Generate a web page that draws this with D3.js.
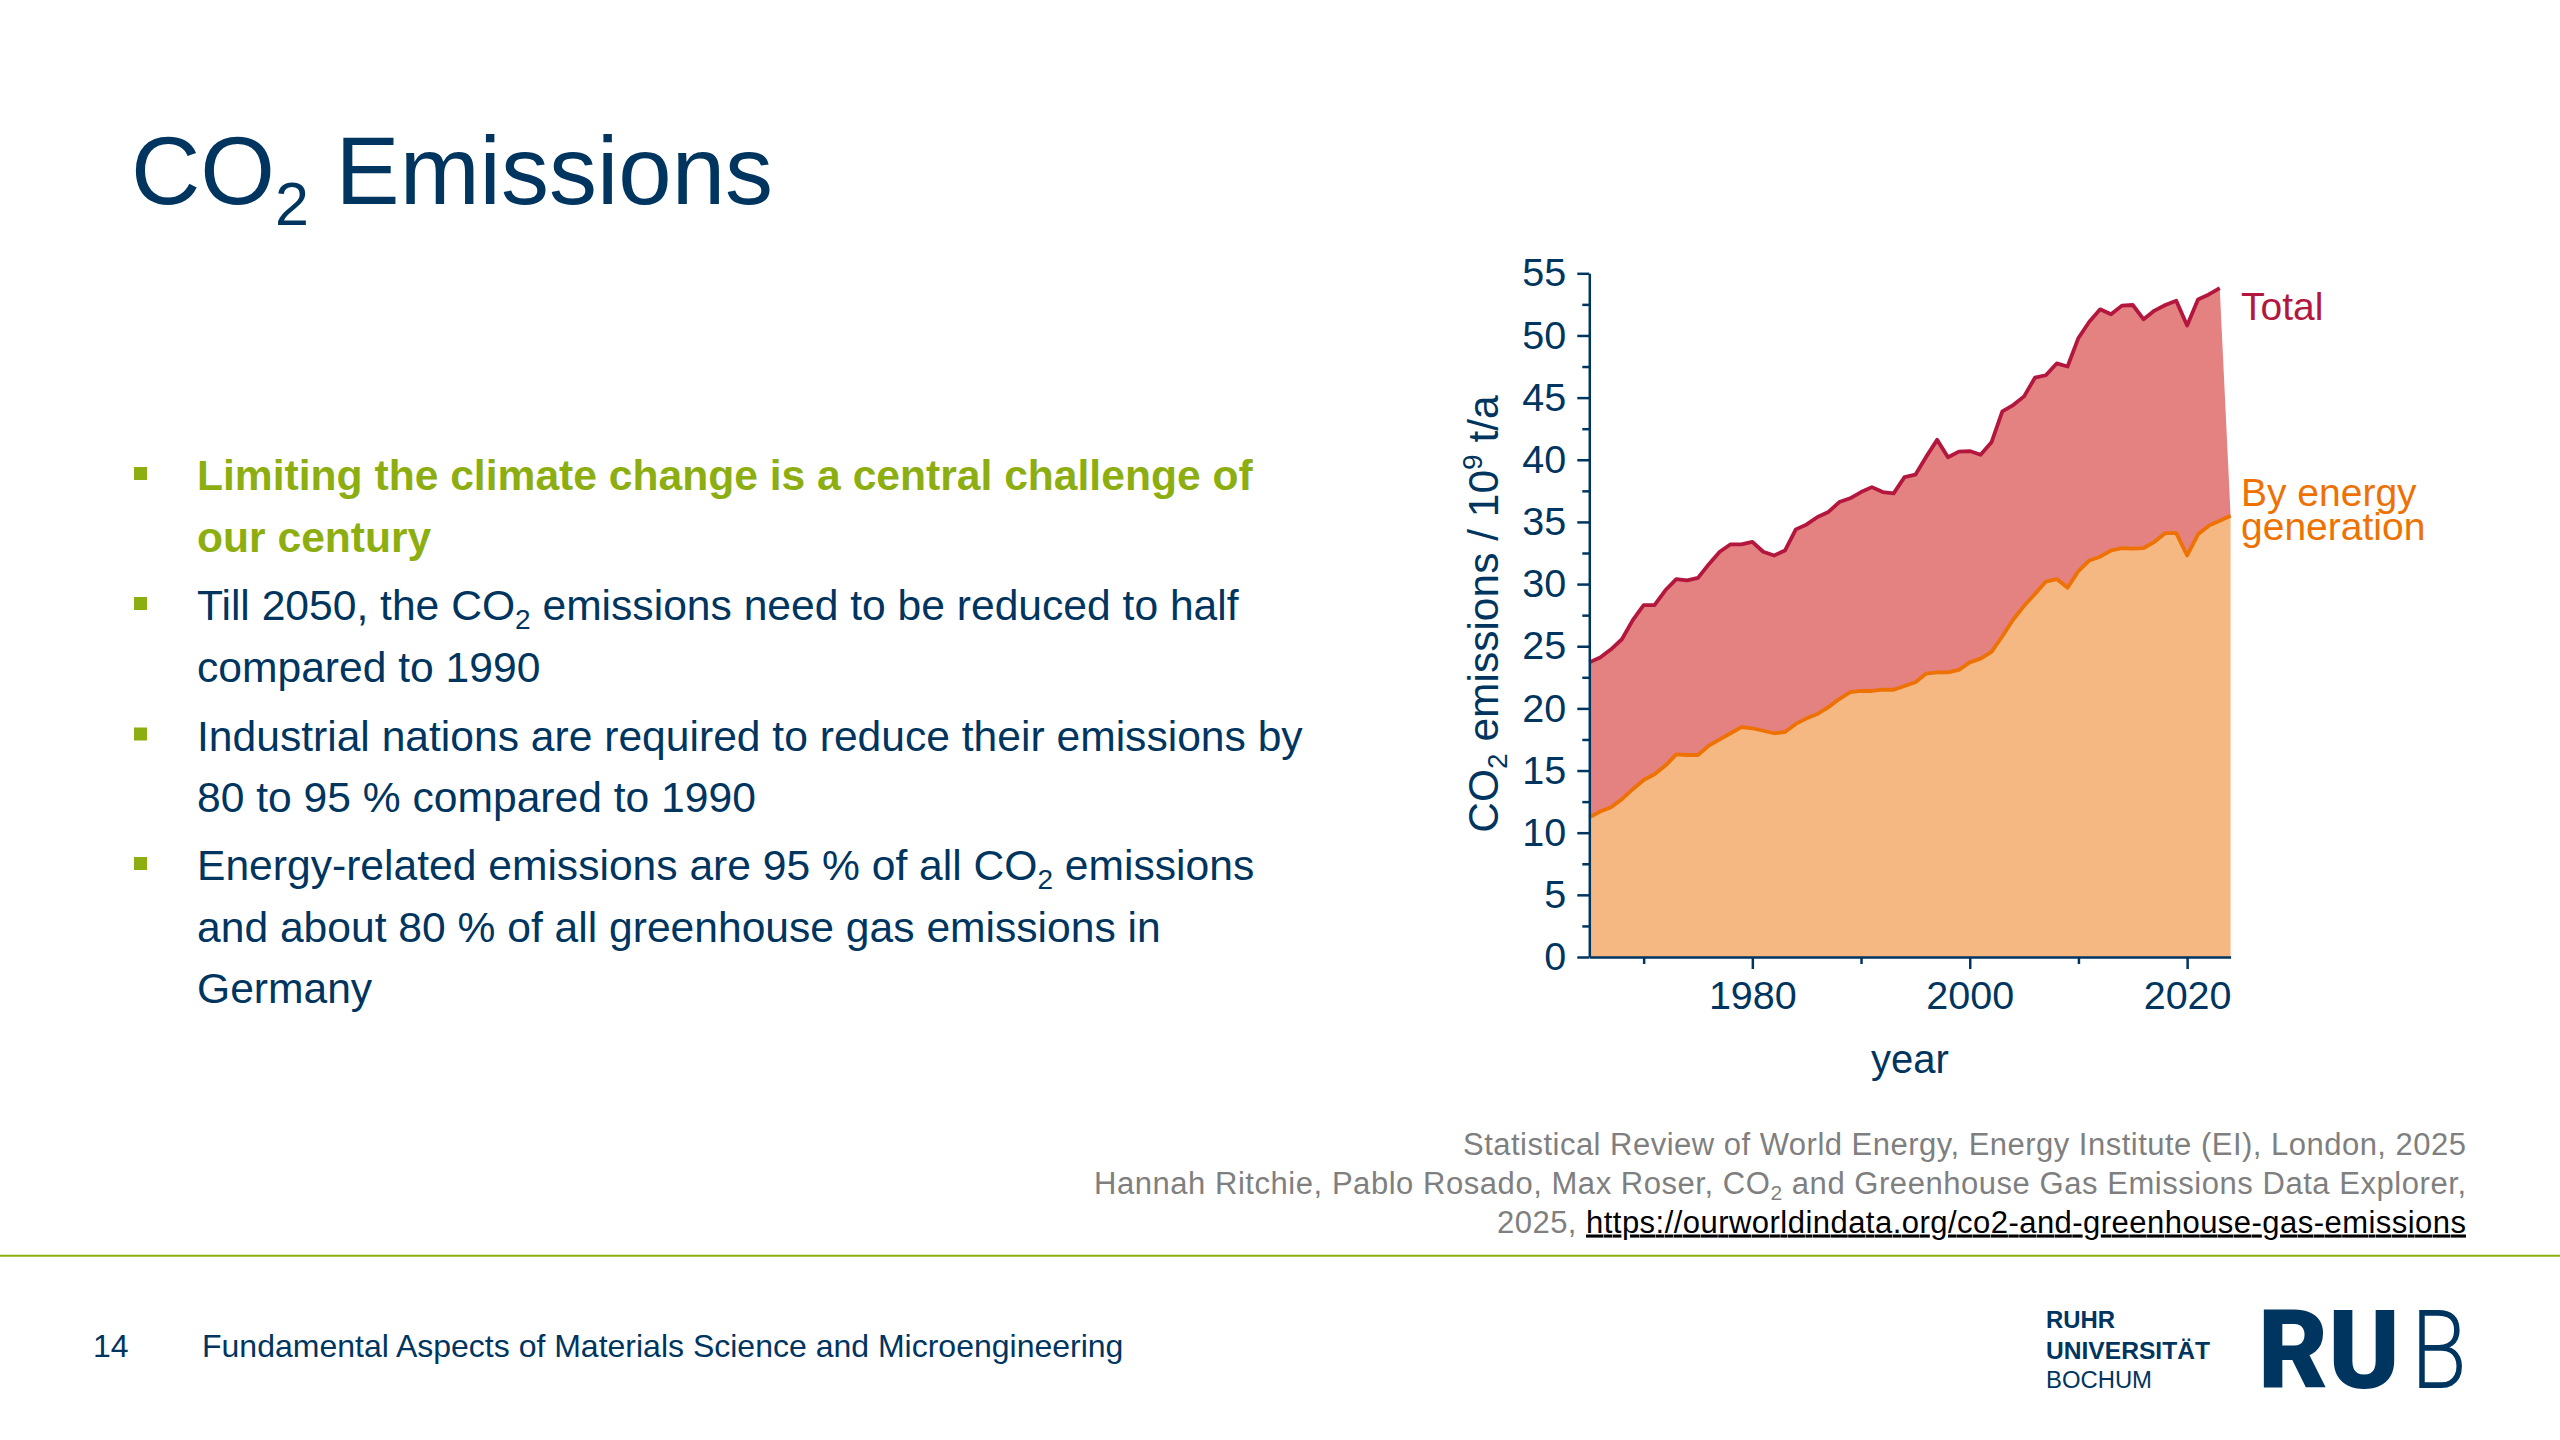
<!DOCTYPE html>
<html>
<head>
<meta charset="utf-8">
<title>CO2 Emissions</title>
<script src="https://cdn.jsdelivr.net/npm/d3@7"></script>
<style>
    body { margin: 0; background: #fff; }
    svg text { font-family: "Liberation Sans", Arial, sans-serif; }
</style>
</head>
<body>
<div id="slide"></div>
<script>
// Years and values (10^9 t/a).
const totalYears = [1965, 1966, 1967, 1968, 1969, 1970, 1971, 1972, 1973, 1974, 1975, 1976, 1977, 1978, 1979,
    1980, 1981, 1982, 1983, 1984, 1985, 1986, 1987, 1988, 1989,
    1990, 1991, 1992, 1993, 1994, 1995, 1996, 1997, 1998, 1999,
    2000, 2001, 2002, 2003, 2004, 2005, 2006, 2007, 2008, 2009,
    2010, 2011, 2012, 2013, 2014, 2015, 2016, 2017, 2018, 2019,
    2020, 2021, 2022, 2023]
const totalValues = [23.7, 24.1, 24.75, 25.56, 27.1, 28.3, 28.3, 29.5, 30.4, 30.3, 30.5, 31.6, 32.6, 33.2, 33.2,
    33.4, 32.6, 32.3, 32.7, 34.4, 34.8, 35.4, 35.8, 36.6, 36.9,
    37.4, 37.8, 37.4, 37.3, 38.6, 38.8, 40.25, 41.6, 40.2, 40.65,
    40.7, 40.4, 41.4, 43.9, 44.4, 45.1, 46.6, 46.8, 47.75, 47.5,
    49.8, 51.1, 52.1, 51.7, 52.4, 52.45, 51.3, 52.0, 52.45, 52.8,
    50.8, 52.9, 53.3, 53.8]

const energyYears = [1965, 1966, 1967, 1968, 1969, 1970, 1971, 1972, 1973, 1974, 1975, 1976, 1977, 1978, 1979,
    1980, 1981, 1982, 1983, 1984, 1985, 1986, 1987, 1988, 1989,
    1990, 1991, 1992, 1993, 1994, 1995, 1996, 1997, 1998, 1999,
    2000, 2001, 2002, 2003, 2004, 2005, 2006, 2007, 2008, 2009,
    2010, 2011, 2012, 2013, 2014, 2015, 2016, 2017, 2018, 2019,
    2020, 2021, 2022, 2023, 2024]
const energyValues = [11.24, 11.7, 12.04, 12.7, 13.5, 14.24, 14.7, 15.4, 16.3, 16.25, 16.25, 17.0, 17.5, 18.0, 18.5,
    18.4, 18.2, 18.0, 18.1, 18.75, 19.2, 19.55, 20.1, 20.75, 21.3,
    21.4, 21.4, 21.5, 21.5, 21.8, 22.1, 22.8, 22.9, 22.9, 23.1,
    23.7, 24.0, 24.55, 25.8, 27.15, 28.25, 29.2, 30.2, 30.4, 29.7,
    31.05, 31.9, 32.2, 32.7, 32.9, 32.85, 32.9, 33.4, 34.1, 34.1,
    32.3, 34.0, 34.7, 35.1, 35.5]

const yMajorTicks = [0, 5, 10, 15, 20, 25, 30, 35, 40, 45, 50, 55]
const yMinorTicks = [2.5, 7.5, 12.5, 17.5, 22.5, 27.5, 32.5, 37.5, 42.5, 47.5, 52.5]
const xMajorTicks = [1980, 2000, 2020]
const xMinorTicks = [1970, 1990, 2010]

const bullets = [
    {lines: [['Limiting the climate change is a central challenge of'], ['our century']], bold: true},
    {lines: [['Till 2050, the CO', '2', ' emissions need to be reduced to half'], ['compared to 1990']]},
    {lines: [['Industrial nations are required to reduce their emissions by'], ['80 to 95 % compared to 1990']]},
    {lines: [['Energy-related emissions are 95 % of all CO', '2', ' emissions'],
        ['and about 80 % of all greenhouse gas emissions in'], ['Germany']]}
]

const NAVY = '#003560'
const GREEN = '#8dae10'

class EmissionsSlide {
    constructor(_config) {
        this.config = {
            parentElement: _config.parentElement,
            width: 2560,
            height: 1440,
            plot: {left: 1589.3, right: 2230.6, top: 273.3, bottom: 957},
            tickFont: 39.5
        }
        this.initVis()
    }

    initVis() {
        let vis = this

        vis.svg = d3.select(vis.config.parentElement)
            .append('svg')
            .attr('width', vis.config.width)
            .attr('height', vis.config.height)

        vis.xScale = d3.scaleLinear()
            .domain([1965, 2024])
            .range([vis.config.plot.left, vis.config.plot.right])
        vis.yScale = d3.scaleLinear()
            .domain([0, 55])
            .range([vis.config.plot.bottom, vis.config.plot.top])

        vis.renderText()
        vis.renderChart()
        vis.renderFooter()
    }

    renderText() {
        let vis = this

        // Title with subscript.
        const title = vis.svg.append('text')
            .attr('x', 131).attr('y', 204)
            .attr('font-size', 96).attr('fill', NAVY)
        title.append('tspan').text('CO')
        title.append('tspan').attr('font-size', 61).attr('dy', 21).text('2')
        title.append('tspan').attr('dy', -21).text(' Emissions')

        // Bullet list.
        const firstBaseline = [490, 620, 750.5, 880]
        bullets.forEach((b, i) => {
            vis.svg.append('rect')
                .attr('x', 134).attr('y', firstBaseline[i] - 23)
                .attr('width', 13).attr('height', 13)
                .attr('fill', GREEN)
            b.lines.forEach((parts, j) => {
                const t = vis.svg.append('text')
                    .attr('x', 197).attr('y', firstBaseline[i] + j * 61.5)
                    .attr('font-size', 42.6)
                    .attr('font-weight', b.bold ? 'bold' : 'normal')
                    .attr('fill', b.bold ? GREEN : NAVY)
                t.append('tspan').text(parts[0])
                if (parts.length > 1) {
                    t.append('tspan').attr('font-size', 28).attr('dy', 9).text(parts[1])
                    t.append('tspan').attr('dy', -9).text(parts[2])
                }
            })
        })
    }

    renderChart() {
        let vis = this
        const x = vis.xScale, y = vis.yScale

        const totalData = totalYears.map((yr, i) => ({year: yr, value: totalValues[i]}))
        const energyData = energyYears.map((yr, i) => ({year: yr, value: energyValues[i]}))

        const line = d3.line().x(d => x(d.year)).y(d => y(d.value))

        // Red band: total on top, back along energy.
        const band = totalData.concat(energyData.slice().reverse())
        vis.svg.append('path')
            .attr('d', line(band) + 'Z')
            .attr('fill', '#e48181')

        const area = d3.area()
            .x(d => x(d.year))
            .y0(y(0))
            .y1(d => y(d.value))
        vis.svg.append('path')
            .attr('d', area(energyData))
            .attr('fill', '#f6b882')

        vis.svg.append('path')
            .attr('d', line(totalData))
            .attr('fill', 'none')
            .attr('stroke', '#b3173d')
            .attr('stroke-width', 3.8)
            .attr('stroke-linejoin', 'round')
        vis.svg.append('path')
            .attr('d', line(energyData))
            .attr('fill', 'none')
            .attr('stroke', '#ee7203')
            .attr('stroke-width', 3.8)
            .attr('stroke-linejoin', 'round')

        // Axes.
        vis.svg.append('g')
            .attr('transform', `translate(${x(1965)},0)`)
            .call(d3.axisLeft(y).tickValues(yMajorTicks).tickSize(12).tickSizeOuter(0).tickPadding(11))
        vis.svg.append('g')
            .attr('transform', `translate(${x(1965)},0)`)
            .call(d3.axisLeft(y).tickValues(yMinorTicks).tickSize(7).tickSizeOuter(0).tickFormat(''))
            .call(g => g.select('.domain').remove())

        vis.svg.append('g')
            .attr('transform', `translate(0,${y(0)})`)
            .call(d3.axisBottom(x).tickValues(xMajorTicks).tickSize(12).tickSizeOuter(0).tickPadding(12).tickFormat(d3.format('d')))
        vis.svg.append('g')
            .attr('transform', `translate(0,${y(0)})`)
            .call(d3.axisBottom(x).tickValues(xMinorTicks).tickSize(7).tickSizeOuter(0).tickFormat(''))
            .call(g => g.select('.domain').remove())

        vis.svg.selectAll('.domain, .tick line')
            .attr('stroke', NAVY)
            .attr('stroke-width', 2.5)
        vis.svg.selectAll('.tick text')
            .attr('fill', NAVY)
            .attr('font-size', vis.config.tickFont)
            .style('font-family', '"Liberation Sans", Arial, sans-serif')

        // Axis titles.
        const yLabel = vis.svg.append('text')
            .attr('transform', 'translate(1498,614) rotate(-90)')
            .attr('text-anchor', 'middle')
            .attr('font-size', 42.5)
            .attr('fill', NAVY)
        yLabel.append('tspan').text('CO')
        yLabel.append('tspan').attr('font-size', 28).attr('dy', 9).text('2')
        yLabel.append('tspan').attr('dy', -9).text(' emissions / 10')
        yLabel.append('tspan').attr('font-size', 28).attr('dy', -16).text('9')
        yLabel.append('tspan').attr('dy', 16).text(' t/a')

        vis.svg.append('text')
            .attr('x', (x(1965) + x(2024)) / 2).attr('y', 1073)
            .attr('text-anchor', 'middle')
            .attr('font-size', 40)
            .attr('fill', NAVY)
            .text('year')

        // Series labels.
        vis.svg.append('text')
            .attr('x', 2241).attr('y', 320)
            .attr('font-size', 39).attr('fill', '#b3173d')
            .text('Total')
        vis.svg.append('text')
            .attr('x', 2241).attr('y', 505.5)
            .attr('font-size', 39).attr('fill', '#ee7203')
            .text('By energy')
        vis.svg.append('text')
            .attr('x', 2241).attr('y', 540)
            .attr('font-size', 39).attr('fill', '#ee7203')
            .text('generation')
    }

    renderFooter() {
        let vis = this

        // Sources, right aligned.
        const src = vis.svg.append('g')
            .attr('font-size', 31)
            .attr('fill', '#7f7f7f')
            .attr('text-anchor', 'end')
        src.append('text').attr('x', 2466).attr('y', 1155)
            .attr('textLength', 1003).attr('lengthAdjust', 'spacing')
            .text('Statistical Review of World Energy, Energy Institute (EI), London, 2025')
        const s2 = src.append('text').attr('x', 2466).attr('y', 1193.5)
            .attr('textLength', 1372).attr('lengthAdjust', 'spacing')
        s2.append('tspan').text('Hannah Ritchie, Pablo Rosado, Max Roser, CO')
        s2.append('tspan').attr('font-size', 21).attr('dy', 6).text('2')
        s2.append('tspan').attr('dy', -6).text(' and Greenhouse Gas Emissions Data Explorer,')
        const s3 = src.append('text').attr('x', 2466).attr('y', 1232.5)
            .attr('textLength', 969).attr('lengthAdjust', 'spacing')
        s3.append('tspan').text('2025, ')
        s3.append('tspan').attr('fill', '#000').attr('text-decoration', 'underline')
            .text('https://ourworldindata.org/co2-and-greenhouse-gas-emissions')

        vis.svg.append('line')
            .attr('x1', 0).attr('x2', vis.config.width)
            .attr('y1', 1255.7).attr('y2', 1255.7)
            .attr('stroke', GREEN).attr('stroke-width', 2)

        vis.svg.append('text')
            .attr('x', 93).attr('y', 1357)
            .attr('font-size', 32).attr('fill', NAVY)
            .text('14')
        vis.svg.append('text')
            .attr('x', 202).attr('y', 1357)
            .attr('font-size', 32).attr('fill', NAVY)
            .text('Fundamental Aspects of Materials Science and Microengineering')

        // RUB logo.
        const logo = vis.svg.append('g').attr('fill', NAVY)
        logo.append('text').attr('x', 2046).attr('y', 1328)
            .attr('font-size', 23).attr('font-weight', 'bold')
            .attr('textLength', 69).attr('lengthAdjust', 'spacingAndGlyphs')
            .text('RUHR')
        logo.append('text').attr('x', 2046).attr('y', 1359)
            .attr('font-size', 23).attr('font-weight', 'bold')
            .attr('textLength', 164).attr('lengthAdjust', 'spacingAndGlyphs')
            .text('UNIVERSITÄT')
        logo.append('text').attr('x', 2046).attr('y', 1388)
            .attr('font-size', 23)
            .attr('textLength', 106).attr('lengthAdjust', 'spacingAndGlyphs')
            .text('BOCHUM')
        logo.append('text').attr('x', 2258).attr('y', 1388)
            .attr('font-size', 109).attr('font-weight', 900)
            .style('font-family', 'Roboto, "Liberation Sans", sans-serif')
            .attr('textLength', 142).attr('lengthAdjust', 'spacingAndGlyphs')
            .text('RU')
        logo.append('text').attr('x', 2411).attr('y', 1388)
            .attr('font-size', 109).attr('font-weight', 300)
            .style('font-family', 'Roboto, "Liberation Sans", sans-serif')
            .attr('textLength', 56).attr('lengthAdjust', 'spacingAndGlyphs')
            .text('B')
    }
}

new EmissionsSlide({parentElement: '#slide'})
</script>
</body>
</html>
